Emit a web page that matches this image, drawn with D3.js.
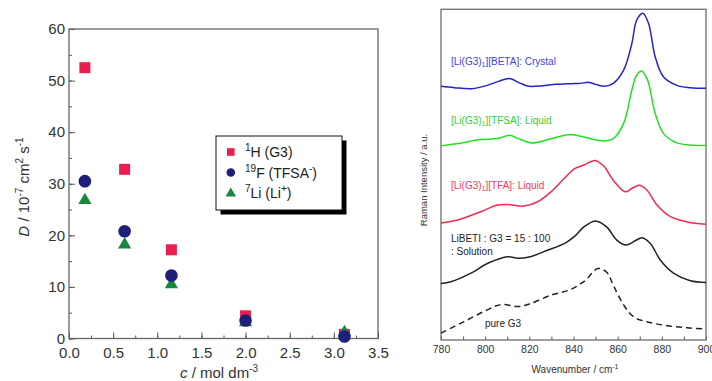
<!DOCTYPE html>
<html>
<head>
<meta charset="utf-8">
<script src="https://cdn.jsdelivr.net/npm/d3@7"></script>
<style>
  body { margin: 0; background: #fff; }
  svg { display: block; font-family: "Liberation Sans", Arial, sans-serif; }
</style>
</head>
<body>
<svg id="chart" width="712" height="381"></svg>
<script>
// Diffusion coefficients (10^-7 cm2 s-1) against concentration (mol dm-3)
const conc = [0.18, 0.63, 1.16, 2.0, 3.12];
const dH = [52.5, 32.8, 17.2, 4.4, 0.8];
const dF = [30.5, 20.8, 12.2, 3.5, 0.4];
const dLi = [26.8, 18.2, 10.5, 3.1, 1.2];
const dTickY = [0, 10, 20, 30, 40, 50, 60];
const dTickX = [0, 0.5, 1, 1.5, 2, 2.5, 3, 3.5];

// Raman spectra, [wavenumber, intensity a.u.] already stacked
const specBeta = [[780, 76.7], [786, 76.3], [794, 76.0], [801, 77.0], [806, 78.2], [811, 79.1], [816, 77.6], [820, 76.7], [826, 76.9], [832, 77.3], [839, 77.5], [843, 77.6], [847, 77.9], [850, 77.3], [854, 76.7], [858, 77.6], [862.7, 81.6], [866.4, 89.6], [868.6, 96.7], [871.4, 98.8], [874, 95.7], [877, 85.6], [880.8, 79.5], [886.8, 77.0], [892.9, 76.3], [900, 76.1]];
const specTfsa = [[780, 58.7], [787.6, 59.4], [798, 60.6], [805.6, 60.9], [811, 61.9], [815, 60.9], [821, 59.6], [828.6, 60.6], [837.7, 62.1], [844.7, 61.4], [853.6, 60.2], [858, 60.9], [862.7, 65.5], [866.4, 75.5], [868.6, 80.1], [871, 81.3], [873.6, 78.5], [877, 68.5], [880.8, 62.4], [886.8, 59.6], [892.9, 59.0], [900, 58.8]];
const specTfa = [[780, 35.4], [787.6, 36.3], [798, 38.8], [805.6, 40.8], [810, 41.0], [817.7, 40.5], [823.8, 41.8], [829.8, 44.8], [835.9, 48.9], [840.5, 51.8], [844.7, 52.9], [849.8, 54.3], [853.7, 52.6], [858, 48.3], [863.4, 44.8], [866.4, 45.8], [869.9, 46.8], [873.3, 45.3], [877.8, 40.8], [883.9, 37.3], [891.5, 35.7], [900, 35.0]];
const specSoln = [[780, 17.1], [784.5, 17.6], [793.6, 20.2], [801.2, 23.2], [810.3, 25.2], [814.8, 24.7], [819.4, 25.0], [828.5, 27.2], [836, 29.2], [840.6, 31.4], [844.7, 34.2], [850, 36.0], [855, 34.2], [859.6, 30.2], [863.8, 28.7], [867.9, 30.0], [871, 30.9], [874.8, 29.2], [879.3, 24.2], [885.3, 20.2], [892.9, 17.9], [900, 17.4]];
const specG3 = [[780, 2.1], [790, 5.4], [800, 8.8], [807, 10.7], [815, 10.1], [820, 10.9], [830, 13.6], [838, 15.1], [845, 17.8], [851, 21.6], [855, 20.5], [858, 16.6], [862.7, 10.6], [867.2, 7.0], [873.3, 5.5], [880.8, 4.5], [891.5, 3.7], [900, 3.3]];
const ramanTicks = [780, 800, 820, 840, 860, 880, 900];

const svg = d3.select('#chart');

// ---------- left: diffusion coefficients ----------
const x = d3.scaleLinear().domain([0, 3.5]).range([69, 378]);
const y = d3.scaleLinear().domain([0, 60]).range([338.5, 29]);

const left = svg.append('g');

// minor ticks (inward)
left.append('g')
  .attr('transform', 'translate(0,' + y(0) + ')')
  .call(d3.axisBottom(x).tickValues(d3.range(0, 3.51, 0.25)).tickSize(-3).tickFormat(''))
  .call(g => g.select('.domain').remove());
left.append('g')
  .attr('transform', 'translate(' + x(0) + ',0)')
  .call(d3.axisLeft(y).tickValues(d3.range(0, 61, 5)).tickSize(-3).tickFormat(''))
  .call(g => g.select('.domain').remove());

// major ticks with labels
const xAxis = left.append('g')
  .attr('transform', 'translate(0,' + y(0) + ')')
  .call(d3.axisBottom(x).tickValues(dTickX).tickSize(-6).tickPadding(9).tickFormat(d3.format('.1f')));
const yAxis = left.append('g')
  .attr('transform', 'translate(' + x(0) + ',0)')
  .call(d3.axisLeft(y).tickValues(dTickY).tickSize(-6).tickPadding(4));
[xAxis, yAxis].forEach(a => {
  a.select('.domain').remove();
  a.selectAll('text').attr('font-size', 15).attr('fill', '#333').attr('font-family', null);
});
left.selectAll('.tick line').attr('stroke', '#555');

left.append('rect')
  .attr('x', x(0)).attr('y', y(60))
  .attr('width', x(3.5) - x(0)).attr('height', y(0) - y(60))
  .attr('fill', 'none').attr('stroke', '#666').attr('stroke-width', 1.3);

const colH = '#e81f4f', colF = '#1e1f78', colLi = '#17883c';
const tri = d3.symbol().type(d3.symbolTriangle);

const pts = left.append('g');
pts.selectAll('rect.h').data(conc).join('rect')
  .attr('class', 'h')
  .attr('x', d => x(d) - 5.5).attr('y', (d, i) => y(dH[i]) - 5.5)
  .attr('width', 11).attr('height', 11).attr('fill', colH);
pts.selectAll('path.li').data(conc).join('path')
  .attr('class', 'li')
  .attr('d', tri.size(75))
  .attr('transform', (d, i) => 'translate(' + x(d) + ',' + y(dLi[i]) + ')')
  .attr('fill', colLi);
pts.selectAll('circle.f').data(conc).join('circle')
  .attr('class', 'f')
  .attr('cx', d => x(d)).attr('cy', (d, i) => y(dF[i]))
  .attr('r', 6.3).attr('fill', colF);

// axis titles
const yTitle = left.append('text')
  .attr('transform', 'translate(29,187) rotate(-90)')
  .attr('text-anchor', 'middle').attr('font-size', 15).attr('fill', '#333');
yTitle.append('tspan').attr('font-style', 'italic').text('D');
yTitle.append('tspan').text(' / 10');
yTitle.append('tspan').attr('font-size', 10).attr('dy', -6).text('-7');
yTitle.append('tspan').attr('dy', 6).text(' cm');
yTitle.append('tspan').attr('font-size', 10).attr('dy', -6).text('2');
yTitle.append('tspan').attr('dy', 6).text(' s');
yTitle.append('tspan').attr('font-size', 10).attr('dy', -6).text('-1');

const xTitle = left.append('text')
  .attr('x', 180).attr('y', 377.5).attr('font-size', 15).attr('fill', '#333');
xTitle.append('tspan').attr('font-style', 'italic').text('c');
xTitle.append('tspan').text(' / mol dm');
xTitle.append('tspan').attr('font-size', 10).attr('dy', -6).text('-3');

// legend with drop shadow
const lg = left.append('g').attr('transform', 'translate(216,136)');
lg.append('rect').attr('x', 4.5).attr('y', 4.5).attr('width', 126).attr('height', 74).attr('fill', '#000');
lg.append('rect').attr('width', 126).attr('height', 74).attr('fill', '#fff').attr('stroke', '#111').attr('stroke-width', 1);

const legendRows = [
  { sup: '1', name: 'H (G3)', tail: '', tailSup: '', col: colH, shape: 'square' },
  { sup: '19', name: 'F (TFSA', tail: ')', tailSup: '-', col: colF, shape: 'circle' },
  { sup: '7', name: 'Li (Li', tail: ')', tailSup: '+', col: colLi, shape: 'triangle' }
];
legendRows.forEach((r, i) => {
  const cy = 16 + i * 20.5;
  if (r.shape === 'square') {
    lg.append('rect').attr('x', 11).attr('y', cy - 3.8).attr('width', 7.6).attr('height', 7.6).attr('fill', r.col);
  } else if (r.shape === 'circle') {
    lg.append('circle').attr('cx', 14.8).attr('cy', cy).attr('r', 4.3).attr('fill', r.col);
  } else {
    lg.append('path').attr('d', tri.size(48)).attr('transform', 'translate(14.8,' + (cy + 0.5) + ')').attr('fill', r.col);
  }
  const t = lg.append('text').attr('x', 29).attr('y', cy + 5).attr('font-size', 14).attr('fill', '#222');
  t.append('tspan').attr('font-size', 10).attr('dy', -6).text(r.sup);
  t.append('tspan').attr('dy', 6).text(r.name);
  if (r.tailSup) {
    t.append('tspan').attr('font-size', 10).attr('dy', -6).text(r.tailSup);
    t.append('tspan').attr('dy', 6).text(r.tail);
  }
});

// ---------- right: Raman spectra ----------
const xr = d3.scaleLinear().domain([780, 900]).range([441, 706]);
const yr = d3.scaleLinear().domain([0, 100]).range([340, 9.3]);

const right = svg.append('g');

const rAxis = right.append('g')
  .attr('transform', 'translate(0,' + yr(0) + ')')
  .call(d3.axisBottom(xr).tickValues(d3.range(780, 901, 10)).tickSize(-3.5).tickPadding(6)
    .tickFormat(d => ramanTicks.includes(d) ? d : ''));
rAxis.select('.domain').remove();
rAxis.selectAll('text').attr('font-size', 10.5).attr('fill', '#333').attr('font-family', null);
rAxis.selectAll('.tick line').attr('stroke', '#555');

right.append('rect')
  .attr('x', xr(780)).attr('y', yr(100))
  .attr('width', xr(900) - xr(780)).attr('height', yr(0) - yr(100))
  .attr('fill', 'none').attr('stroke', '#777').attr('stroke-width', 1.4);

const line = d3.line()
  .x(d => xr(d[0])).y(d => yr(d[1]))
  .curve(d3.curveCatmullRom.alpha(0.5));

const spectra = [
  { data: specBeta, col: '#2323cc', dash: null },
  { data: specTfsa, col: '#22e022', dash: null },
  { data: specTfa, col: '#f7294f', dash: null },
  { data: specSoln, col: '#222', dash: null },
  { data: specG3, col: '#222', dash: '6,4' }
];
right.selectAll('path.spec').data(spectra).join('path')
  .attr('class', 'spec')
  .attr('d', s => line(s.data))
  .attr('fill', 'none')
  .attr('stroke', s => s.col)
  .attr('stroke-width', 1.5)
  .attr('stroke-dasharray', s => s.dash);

// spectrum labels
function sampleLabel(xPos, yPos, col, anion, state) {
  const t = right.append('text').attr('x', xPos).attr('y', yPos).attr('font-size', 10).attr('fill', col);
  t.append('tspan').text('[Li(G3)');
  t.append('tspan').attr('font-size', 7).attr('dy', 2).text('1');
  t.append('tspan').attr('dy', -2).text('][' + anion + ']: ' + state);
}
sampleLabel(451, 65, '#4343dc', 'BETA', 'Crystal');
sampleLabel(451, 124, '#35d035', 'TFSA', 'Liquid');
sampleLabel(451, 189, '#f2395c', 'TFA', 'Liquid');
right.append('text').attr('x', 451).attr('y', 242).attr('font-size', 10).attr('fill', '#222').text('LiBETI : G3 = 15 : 100');
right.append('text').attr('x', 451).attr('y', 254.5).attr('font-size', 10).attr('fill', '#222').text(': Solution');
right.append('text').attr('x', 485).attr('y', 327).attr('font-size', 10).attr('fill', '#222').text('pure G3');

// axis titles
right.append('text')
  .attr('transform', 'translate(427,180) rotate(-90)')
  .attr('text-anchor', 'middle').attr('font-size', 9.5).attr('fill', '#333')
  .text('Raman Intensity / a.u.');
const wt = right.append('text')
  .attr('x', 575).attr('y', 373).attr('text-anchor', 'middle').attr('font-size', 10).attr('fill', '#333');
wt.append('tspan').text('Wavenumber / cm');
wt.append('tspan').attr('font-size', 7).attr('dy', -4).text('-1');
</script>
</body>
</html>
